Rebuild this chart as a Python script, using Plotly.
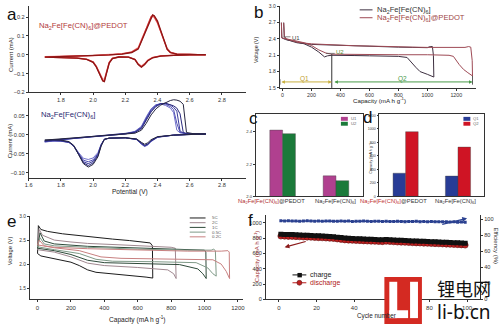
import plotly.graph_objects as go

# ============================ DATA ============================
# (a) top: CV of Na2Fe[Fe(CN)6]@PEDOT  (potential V, current mA)
cv_pe_v_an = [1.70, 1.80, 1.90, 2.00, 2.10, 2.18, 2.24, 2.28, 2.30, 2.32, 2.34, 2.36, 2.37, 2.38, 2.40, 2.42, 2.44, 2.46, 2.48, 2.52, 2.60, 2.70]
cv_pe_i_an = [
    [-0.010, -0.009, -0.006, -0.003, 0.001, 0.006, 0.016, 0.038, 0.080, 0.120, 0.168, 0.198, 0.204, 0.198, 0.168, 0.125, 0.080, 0.035, 0.014, 0.005, 0.002, 0.001],
    [-0.011, -0.010, -0.007, -0.004, 0.000, 0.005, 0.014, 0.034, 0.075, 0.115, 0.165, 0.203, 0.210, 0.203, 0.172, 0.122, 0.070, 0.028, 0.011, 0.004, 0.002, 0.001],
    [-0.012, -0.010, -0.008, -0.005, -0.001, 0.004, 0.012, 0.030, 0.070, 0.110, 0.160, 0.200, 0.212, 0.208, 0.180, 0.130, 0.075, 0.030, 0.012, 0.004, 0.002, 0.001],
]
cv_pe_v_ca = [2.70, 2.60, 2.50, 2.42, 2.37, 2.34, 2.32, 2.30, 2.28, 2.26, 2.22, 2.16, 2.12, 2.10, 2.08, 2.07, 2.06, 2.04, 2.02, 2.00, 1.96, 1.90, 1.80, 1.70]
cv_pe_i_ca = [
    [0.000, -0.001, -0.002, -0.006, -0.014, -0.028, -0.047, -0.060, -0.048, -0.024, -0.012, -0.011, -0.018, -0.040, -0.100, -0.130, -0.130, -0.095, -0.060, -0.037, -0.023, -0.017, -0.013, -0.011],
    [0.000, -0.001, -0.003, -0.006, -0.015, -0.030, -0.050, -0.064, -0.050, -0.025, -0.013, -0.012, -0.019, -0.042, -0.105, -0.138, -0.136, -0.098, -0.063, -0.039, -0.024, -0.018, -0.014, -0.012],
    [0.000, -0.001, -0.003, -0.007, -0.016, -0.032, -0.052, -0.066, -0.052, -0.026, -0.013, -0.012, -0.020, -0.045, -0.110, -0.143, -0.140, -0.100, -0.065, -0.040, -0.025, -0.018, -0.014, -0.012],
]
# (a) bottom: CV of Na2Fe[Fe(CN)6]
cv_na_v_an = [1.70, 1.80, 1.90, 2.00, 2.10, 2.20, 2.26, 2.30, 2.33, 2.36, 2.39, 2.42, 2.45, 2.48, 2.50, 2.52, 2.54, 2.56, 2.58, 2.62, 2.70]
cv_na_i_an = [
    [-0.019, -0.013, -0.009, -0.005, -0.002, 0.003, 0.009, 0.022, 0.047, 0.068, 0.079, 0.081, 0.077, 0.070, 0.058, 0.012, 0.005, 0.004, 0.003, 0.002, 0.002],
    [-0.018, -0.013, -0.009, -0.005, -0.002, 0.002, 0.008, 0.020, 0.044, 0.066, 0.078, 0.082, 0.080, 0.074, 0.066, 0.030, 0.006, 0.004, 0.003, 0.002, 0.002],
    [-0.017, -0.012, -0.009, -0.005, -0.002, 0.002, 0.007, 0.018, 0.041, 0.063, 0.076, 0.082, 0.082, 0.078, 0.072, 0.062, 0.010, 0.004, 0.003, 0.002, 0.002],
    [-0.016, -0.012, -0.008, -0.005, -0.002, 0.002, 0.006, 0.016, 0.038, 0.060, 0.074, 0.081, 0.083, 0.080, 0.076, 0.070, 0.055, 0.006, 0.003, 0.002, 0.002],
    [-0.014, -0.011, -0.008, -0.005, -0.002, 0.001, 0.004, 0.012, 0.030, 0.052, 0.068, 0.078, 0.085, 0.090, 0.092, 0.091, 0.088, 0.080, 0.006, 0.003, 0.002],
]
cv_na_v_ca = [2.70, 2.60, 2.50, 2.40, 2.36, 2.34, 2.32, 2.30, 2.27, 2.20, 2.10, 2.07, 2.05, 2.03, 2.00, 1.97, 1.94, 1.91, 1.88, 1.85, 1.80, 1.75, 1.70]
cv_na_i_ca = [
    [0.002, 0.001, -0.001, -0.007, -0.018, -0.027, -0.031, -0.025, -0.013, -0.008, -0.009, -0.012, -0.025, -0.047, -0.061, -0.065, -0.062, -0.047, -0.029, -0.020, -0.017, -0.017, -0.019],
    [0.002, 0.001, -0.001, -0.006, -0.017, -0.026, -0.030, -0.024, -0.012, -0.008, -0.009, -0.012, -0.026, -0.050, -0.066, -0.071, -0.067, -0.049, -0.030, -0.020, -0.017, -0.016, -0.018],
    [0.002, 0.001, -0.001, -0.006, -0.016, -0.025, -0.029, -0.023, -0.012, -0.008, -0.009, -0.012, -0.027, -0.052, -0.070, -0.076, -0.071, -0.051, -0.030, -0.020, -0.016, -0.015, -0.017],
    [0.002, 0.001, -0.001, -0.006, -0.016, -0.024, -0.028, -0.022, -0.012, -0.008, -0.009, -0.012, -0.028, -0.055, -0.074, -0.081, -0.074, -0.052, -0.030, -0.019, -0.015, -0.014, -0.016],
    [0.002, 0.001, -0.001, -0.005, -0.013, -0.021, -0.025, -0.020, -0.011, -0.008, -0.009, -0.012, -0.030, -0.058, -0.078, -0.085, -0.076, -0.052, -0.028, -0.018, -0.014, -0.013, -0.014],
]

# (b) voltage profiles (capacity mAh/g, voltage V)
b_na_up_cap = [8, 12, 25, 60, 100, 200, 300, 400, 500, 600, 700, 800, 900, 1000, 1020, 1035, 1042, 1045]
b_na_up_v = [2.70, 2.45, 2.39, 2.36, 2.33, 2.30, 2.29, 2.28, 2.27, 2.26, 2.255, 2.25, 2.245, 2.24, 2.26, 2.26, 2.10, 1.70]
b_na_lo_cap = [-8, -5, 20, 60, 100, 150, 200, 250, 290, 310, 340, 400, 500, 600, 700, 800, 860, 890, 920, 950, 1000, 1045]
b_na_lo_v = [2.70, 2.42, 2.39, 2.37, 2.35, 2.31, 2.25, 2.16, 2.07, 2.09, 2.10, 2.10, 2.095, 2.09, 2.09, 2.08, 2.06, 1.98, 1.88, 1.80, 1.75, 1.70]
b_pe_up_cap = [8, 12, 25, 60, 100, 200, 300, 400, 500, 600, 700, 800, 900, 1000, 1100, 1200, 1260, 1285, 1300, 1310, 1312]
b_pe_up_v = [2.70, 2.45, 2.40, 2.37, 2.34, 2.31, 2.295, 2.285, 2.275, 2.27, 2.26, 2.255, 2.25, 2.245, 2.24, 2.24, 2.245, 2.26, 2.25, 2.00, 1.72]
b_pe_lo_cap = [-8, -5, 20, 60, 100, 150, 200, 250, 300, 340, 400, 600, 800, 1000, 1100, 1150, 1180, 1200, 1220, 1250, 1280, 1312]
b_pe_lo_v = [2.70, 2.42, 2.40, 2.38, 2.36, 2.33, 2.28, 2.20, 2.14, 2.12, 2.12, 2.115, 2.11, 2.11, 2.105, 2.10, 2.08, 2.00, 1.93, 1.84, 1.78, 1.72]
b_q1_end = 340
b_q_end = 1312

# (c) plateau voltages, (d) capacities
cd_groups = [0, 1]
c_u1 = [2.410, 2.127]
c_u2 = [2.388, 2.097]
d_q1 = [343, 300]
d_q2 = [957, 729]

# (e) rate profiles
e_rates = ["5C", "2C", "1C", "0.5C", "0.2C"]
e_up_cap = [
    [0, 5, 20, 60, 150, 250, 350, 450, 550, 640, 675, 688, 690],
    [0, 10, 30, 100, 200, 300, 500, 700, 800, 825, 830],
    [0, 15, 40, 100, 300, 600, 900, 1000, 1008, 1010],
    [0, 15, 40, 100, 300, 600, 900, 1040, 1055, 1065, 1070],
    [0, 10, 40, 100, 300, 600, 900, 1100, 1140, 1148, 1150],
]
e_up_v = [
    [2.22, 2.80, 2.72, 2.68, 2.63, 2.59, 2.55, 2.52, 2.49, 2.46, 2.44, 2.38, 1.71],
    [2.30, 2.72, 2.60, 2.50, 2.46, 2.43, 2.40, 2.37, 2.35, 2.33, 1.70],
    [2.33, 2.65, 2.48, 2.42, 2.37, 2.33, 2.30, 2.29, 2.25, 1.70],
    [2.36, 2.55, 2.42, 2.38, 2.35, 2.31, 2.29, 2.29, 2.31, 2.28, 1.75],
    [2.40, 2.50, 2.38, 2.35, 2.32, 2.29, 2.27, 2.27, 2.28, 2.25, 1.70],
]
e_lo_cap = [
    [0, 20, 60, 120, 200, 250, 300, 350, 450, 550, 650, 690],
    [0, 100, 200, 300, 400, 600, 780, 815, 830],
    [0, 100, 200, 300, 400, 600, 850, 960, 990, 1010],
    [0, 100, 250, 350, 450, 700, 950, 1020, 1050, 1070],
    [0, 100, 250, 380, 500, 800, 1050, 1100, 1130, 1150],
]
e_lo_v = [
    [2.22, 2.17, 2.13, 2.10, 2.04, 1.97, 1.88, 1.83, 1.79, 1.76, 1.73, 1.71],
    [2.30, 2.25, 2.15, 2.02, 1.97, 1.93, 1.88, 1.80, 1.70],
    [2.33, 2.28, 2.20, 2.08, 2.03, 2.01, 1.99, 1.90, 1.80, 1.70],
    [2.36, 2.30, 2.22, 2.10, 2.06, 2.05, 2.03, 1.92, 1.80, 1.75],
    [2.40, 2.34, 2.28, 2.15, 2.12, 2.11, 2.09, 2.00, 1.85, 1.70],
]

# (f) cycling
f_cycles = list(range(1, 101, 2))
f_charge = [850, 848, 846, 845, 842, 840, 838, 836, 834, 831,
            829, 827, 824, 821, 818, 812, 806, 800, 797, 794,
            792, 790, 787, 785, 783, 781, 779, 777, 781, 778,
            775, 772, 770, 768, 766, 763, 761, 759, 757, 755,
            753, 751, 749, 747, 745, 742, 740, 738, 735, 733]
f_discharge = [826, 824, 822, 821, 818, 816, 814, 812, 810, 807,
               805, 803, 800, 797, 794, 788, 782, 776, 773, 770,
               768, 766, 763, 761, 759, 757, 755, 753, 757, 754,
               751, 748, 746, 744, 742, 739, 737, 735, 733, 731,
               729, 727, 725, 723, 721, 718, 716, 714, 711, 708]
f_eff = [97.8, 97.6, 97.9, 97.5, 97.7, 97.4, 97.6, 97.8, 97.5, 97.3,
         97.6, 97.4, 97.7, 97.5, 97.2, 97.4, 97.6, 97.3, 97.5, 97.1,
         97.4, 97.2, 97.5, 97.3, 97.0, 97.2, 97.4, 97.1, 97.3, 96.9,
         97.1, 97.3, 97.0, 96.8, 97.1, 96.9, 97.2, 96.8, 97.0, 96.7,
         96.9, 96.6, 96.8, 96.5, 96.7, 96.3, 96.5, 96.1, 96.3, 96.0]

NA = "Na<sub>2</sub>Fe[Fe(CN)<sub>6</sub>]"
NA_PE = NA + "@PEDOT"
CAP = "Capacity (mA h g<sup>-1</sup>)"

# ============================ STYLE ============================
W, H = 500, 327
FONT = "Arial"
AX = "#333333"


def X(p):
    return p / W


def Y(p):
    return 1 - p / H


red_cols = ["#f09090", "#d83434", "#8e1616"]
blue_cols = ["#7272cc", "#5050b4", "#3a3a9c", "#2a2a80", "#262640"]
b_na_col = "#3d2f40"
b_pe_col = "#9e4a55"
e_cols = ["#1c1c1c", "#a08890", "#2e4a3a", "#7f9a88", "#c88080"]

fig = go.Figure()

# ---- (a)
for i, col in enumerate(red_cols):
    fig.add_trace(go.Scatter(x=cv_pe_v_an + cv_pe_v_ca, y=cv_pe_i_an[i] + cv_pe_i_ca[i],
                             mode="lines", line=dict(color=col, width=1.3),
                             xaxis="x", yaxis="y", showlegend=False))
for i, col in enumerate(blue_cols):
    fig.add_trace(go.Scatter(x=cv_na_v_an + cv_na_v_ca, y=cv_na_i_an[i] + cv_na_i_ca[i],
                             mode="lines", line=dict(color=col, width=1.0),
                             xaxis="x2", yaxis="y2", showlegend=False))
# ---- (b)
fig.add_trace(go.Scatter(x=b_na_up_cap + b_na_lo_cap[::-1], y=b_na_up_v + b_na_lo_v[::-1],
                         mode="lines", line=dict(color=b_na_col, width=1.0),
                         xaxis="x3", yaxis="y3", showlegend=False))
fig.add_trace(go.Scatter(x=b_pe_up_cap + b_pe_lo_cap[::-1], y=b_pe_up_v + b_pe_lo_v[::-1],
                         mode="lines", line=dict(color=b_pe_col, width=1.0),
                         xaxis="x3", yaxis="y3", showlegend=False))
# ---- (c)
fig.add_trace(go.Bar(x=cd_groups, y=c_u1, marker=dict(color="#b0408f", line=dict(color="#444", width=0.4)),
                     offsetgroup="1", xaxis="x4", yaxis="y4", showlegend=False))
fig.add_trace(go.Bar(x=cd_groups, y=c_u2, marker=dict(color="#1b7a3a", line=dict(color="#444", width=0.4)),
                     offsetgroup="2", xaxis="x4", yaxis="y4", showlegend=False))
# ---- (d)
fig.add_trace(go.Bar(x=cd_groups, y=d_q1, marker=dict(color="#283c96", line=dict(color="#444", width=0.4)),
                     offsetgroup="1", xaxis="x5", yaxis="y5", showlegend=False))
fig.add_trace(go.Bar(x=cd_groups, y=d_q2, marker=dict(color="#cf1424", line=dict(color="#444", width=0.4)),
                     offsetgroup="2", xaxis="x5", yaxis="y5", showlegend=False))
# ---- (e)
for i, col in enumerate(e_cols):
    fig.add_trace(go.Scatter(x=e_up_cap[i] + e_lo_cap[i][::-1], y=e_up_v[i] + e_lo_v[i][::-1],
                             mode="lines", line=dict(color=col, width=1.0),
                             xaxis="x6", yaxis="y6", showlegend=False))
# ---- (f)
fig.add_trace(go.Scatter(x=f_cycles, y=f_eff, mode="lines+markers",
                         line=dict(color="#2a4090", width=1.5),
                         marker=dict(color="#2a4090", size=3, symbol="square"),
                         xaxis="x7", yaxis="y8", showlegend=False))
fig.add_trace(go.Scatter(x=f_cycles, y=f_discharge, mode="lines+markers",
                         line=dict(color="#b81c1c", width=1),
                         marker=dict(color="#c02020", size=6, symbol="circle", line=dict(color="#5a0a0a", width=0.6)),
                         xaxis="x7", yaxis="y7", showlegend=False))
fig.add_trace(go.Scatter(x=f_cycles, y=f_charge, mode="lines+markers",
                         line=dict(color="#111", width=1),
                         marker=dict(color="#111", size=5, symbol="square"),
                         xaxis="x7", yaxis="y7", showlegend=False))


def axis(domain, rng, anchor, tickvals=None, fmt=None, size=5.8, mirror=False, showlabels=True, ticks="outside", side=None, overlaying=None):
    d = dict(domain=domain, range=rng, anchor=anchor, showline=True, linecolor=AX, linewidth=0.8,
             mirror=mirror, ticks=ticks, ticklen=2, tickwidth=0.7, tickcolor=AX,
             showgrid=False, zeroline=False, showticklabels=showlabels,
             tickfont=dict(family=FONT, size=size, color="#333"))
    if tickvals is not None:
        d["tickvals"] = tickvals
    if fmt:
        d["tickformat"] = fmt
    if side:
        d["side"] = side
    if overlaying:
        d["overlaying"] = overlaying
    return d


layout = dict(
    width=W, height=H, margin=dict(l=0, r=0, t=0, b=0),
    paper_bgcolor="white", plot_bgcolor="white",
    barmode="group", bargap=0.52, bargroupgap=0,
    font=dict(family=FONT, size=7),
    xaxis=axis([X(25), X(245)], [1.6, 2.95], "y", [1.8, 2.0, 2.2, 2.4, 2.6, 2.8], ".1f", 5.6),
    yaxis=axis([Y(91), Y(3)], [-0.2, 0.26], "x", [-0.2, -0.1, 0.0, 0.1, 0.2], ".1f", 5.6),
    xaxis2=axis([X(25), X(245)], [1.6, 2.95], "y2", [1.6, 1.8, 2.0, 2.2, 2.4, 2.6, 2.8], ".1f", 5.6),
    yaxis2=axis([Y(178), Y(97)], [-0.113, 0.096], "x2", [-0.10, -0.05, 0.0, 0.05], ".2f", 5.6),
    xaxis3=axis([X(279), X(478)], [-20, 1338], "y3", [0, 200, 400, 600, 800, 1000, 1200], None, 5.3),
    yaxis3=axis([Y(86.5), Y(3.4)], [1.5, 3.0], "x3", [1.5, 1.8, 2.1, 2.4, 2.7, 3.0], ".1f", 5.0),
    xaxis4=axis([X(255), X(363)], [-0.5, 1.5], "y4", mirror=True, showlabels=False, ticks=""),
    yaxis4=axis([Y(197), Y(113)], [2.0, 2.51], "x4", [2.0, 2.2, 2.4], ".1f", 4.2, mirror=True),
    xaxis5=axis([X(380), X(486)], [-0.5, 1.5], "y5", mirror=True, showlabels=False, ticks=""),
    yaxis5=axis([Y(197), Y(113)], [0, 1220], "x5", [0, 200, 400, 600, 800, 1000, 1200], None, 3.6, mirror=True),
    xaxis6=axis([X(26), X(242)], [-47, 1231], "y6", [0, 200, 400, 600, 800, 1000, 1200], None, 6.0),
    yaxis6=axis([Y(302), Y(217)], [1.265, 3.0], "x6", [1.5, 2.0, 2.5, 3.0], ".1f", 4.8),
    xaxis7=axis([X(265), X(482)], [-7, 107], "y7", [0, 20, 40, 60, 80, 100], None, 6.0),
    yaxis7=axis([Y(302), Y(216)], [0, 1100], "x7", [0, 200, 400, 600, 800, 1000], None, 5.6),
    yaxis8=axis([Y(302), Y(216)], [0, 105], "x7", [0, 20, 40, 60, 80, 100], None, 5.6, side="right", overlaying="y7"),
)

ann = []


def text(t, x, y, size, color="#222", angle=0, xanchor="center", yanchor="middle", family=FONT):
    ann.append(dict(text=t, x=X(x), y=Y(y), xref="paper", yref="paper", showarrow=False,
                    xanchor=xanchor, yanchor=yanchor, textangle=angle,
                    font=dict(family=family, size=size, color=color)))


# panel letters
for lt, lx, ly in [("a", 8, 12), ("b", 258, 10), ("c", 253, 118), ("d", 368, 117), ("e", 8, 223), ("f", 249, 222)]:
    text(lt, lx, ly, 17, "#111")

# (a)
text(NA_PE, 33, 23, 7.7, "#b23a3a", xanchor="left")
text(NA, 35, 114, 7.7, "#2a2a70", xanchor="left")
text("Current (mA)", 7, 52, 6.0, angle=-90)
text("Current (mA)", 7, 140, 6.0, angle=-90)
text("Potential (V)", 128, 193, 6.5)

# (b)
text(NA, 375, 7, 7.6, "#333", xanchor="left")
text(NA_PE, 375, 15, 7.6, "#a04545", xanchor="left")
text("Voltage (V)", 255, 48, 5.3, angle=-90)
text(CAP, 380, 99, 6.2)

# (c)/(d) legends & category labels
text("U1", 349, 118, 4.2, "#666", xanchor="left")
text("U2", 349, 123, 4.2, "#666", xanchor="left")
text("Q1", 473, 118, 4.2, "#666", xanchor="left")
text("Q2", 473, 123, 4.2, "#666", xanchor="left")
text("Capacity (mA h g<sup>-1</sup>)", 371, 158, 3.6, angle=-90)
text("<span style='color:#b03030'>" + NA + "</span>@PEDOT", 271, 202, 5.8, "#333")
text(NA, 336, 202, 5.8, "#333")
text("<span style='color:#c03030'>" + NA + "</span>@PEDOT", 394, 202, 5.8, "#333")
text(NA, 457, 202, 5.8, "#333")

# (e)
text("Voltage (V)", 6, 252, 5.8, angle=-90)
text(CAP, 135, 322, 6.6)
for i, r in enumerate(e_rates):
    text(r, 208, 219 + i * 4.8, 4.4, "#555", xanchor="left")

# (f)
text(CAP, 256, 258, 6.0, "#a03030", angle=-90)
text("Efficiency (%)", 497, 247, 6.0, "#333", angle=90)
text("Cycle number", 377, 319, 6.3)
text("charge", 308, 277, 7.0, "#222", xanchor="left")
text("discharge", 308, 285, 7.0, "#b02020", xanchor="left")


# (b) in-plot annotations (data coords)
def dtext(t, x, y, size, color, xr="x3", yr="y3"):
    ann.append(dict(text=t, x=x, y=y, xref=xr, yref=yr, showarrow=False,
                    font=dict(family=FONT, size=size, color=color)))


dtext("U1", 92, 2.41, 6, "#444")
dtext("U2", 395, 2.16, 6, "#5a8a30")
dtext("Q1", 150, 1.67, 6.5, "#c0a030")
dtext("Q2", 830, 1.67, 6.5, "#4a9a4a")

for (x0, x1, col) in [(-18, b_q1_end, "#c8b040"), (b_q1_end + 8, b_q_end, "#4a9a4a")]:
    ann.append(dict(x=x1, y=1.61, ax=x0, ay=1.61, xref="x3", yref="y3", axref="x3", ayref="y3",
                    text="", showarrow=True, arrowhead=2, arrowside="end+start",
                    arrowsize=0.7, arrowwidth=1, arrowcolor=col))

# (f) arrows
ann.append(dict(x=100, y=101, ax=86, ay=93, xref="x7", yref="y8", axref="x7", ayref="y8",
                text="", showarrow=True, arrowhead=2, arrowsize=0.8, arrowwidth=1.2, arrowcolor="#2a4090"))
ann.append(dict(x=3, y=680, ax=15, ay=760, xref="x7", yref="y7", axref="x7", ayref="y7",
                text="", showarrow=True, arrowhead=2, arrowsize=0.8, arrowwidth=1.2, arrowcolor="#8a1a1a"))

# watermark text
text("锂电网", 466, 290, 18, "#111", family="Noto Sans CJK SC")
text("li-b.cn", 466, 315, 19, "#111", family="Noto Sans")

shapes = []


def pline(x0, y0, x1, y1, col, w=1.0):
    shapes.append(dict(type="line", xref="paper", yref="paper", x0=X(x0), y0=Y(y0), x1=X(x1), y1=Y(y1),
                       line=dict(color=col, width=w)))


def prect(x0, y0, x1, y1, col):
    shapes.append(dict(type="rect", xref="paper", yref="paper", x0=X(x0), y0=Y(y0), x1=X(x1), y1=Y(y1),
                       fillcolor=col, line=dict(width=0), layer="above"))


# (b) legend samples and guide lines
pline(360, 7, 373, 7, b_na_col)
pline(360, 15, 373, 15, b_pe_col)
shapes.append(dict(type="line", xref="x3", yref="y3", x0=b_q1_end, x1=b_q1_end, y0=2.12, y1=1.5,
                   line=dict(color="#333", width=1)))
shapes.append(dict(type="line", xref="x3", yref="y3", x0=-18, x1=-18, y0=1.56, y1=1.66,
                   line=dict(color="#333", width=0.8)))
shapes.append(dict(type="line", xref="x3", yref="y3", x0=b_q_end, x1=b_q_end, y0=1.72, y1=1.56,
                   line=dict(color="#333", width=0.8)))
shapes.append(dict(type="line", xref="x3", yref="y3", x0=5, x1=55, y0=2.44, y1=2.44,
                   line=dict(color="#555", width=0.7)))
shapes.append(dict(type="line", xref="x3", yref="y3", x0=300, x1=360, y0=2.135, y1=2.135,
                   line=dict(color="#555", width=0.7)))

# (c)/(d) legend swatches
prect(341, 116, 348, 120, "#b0408f")
prect(341, 121, 348, 125, "#1b7a3a")
prect(465, 116, 472, 120, "#283c96")
prect(465, 121, 472, 125, "#cf1424")

# (e) legend samples
for i, col in enumerate(e_cols):
    pline(188, 219 + i * 4.8, 204, 219 + i * 4.8, col, 1.0)

# (f) legend samples
pline(292, 277, 306, 277, "#111")
prect(297, 275, 301.5, 279.5, "#111")
pline(292, 285, 306, 285, "#b81c1c")
shapes.append(dict(type="circle", xref="paper", yref="paper", x0=X(296.5), x1=X(301.5), y0=Y(287.5), y1=Y(282.5),
                   fillcolor="#c02020", line=dict(color="#5a0a0a", width=0.6), layer="above"))

# watermark logo
prect(385, 279, 423, 327, "#d42a22")
prect(390, 284, 398, 321, "#ffffff")
prect(390, 313, 409, 321, "#ffffff")
prect(411, 284, 419, 321, "#ffffff")

layout["annotations"] = ann
layout["shapes"] = shapes
fig.update_layout(**layout)
fig.write_html("out.html")
